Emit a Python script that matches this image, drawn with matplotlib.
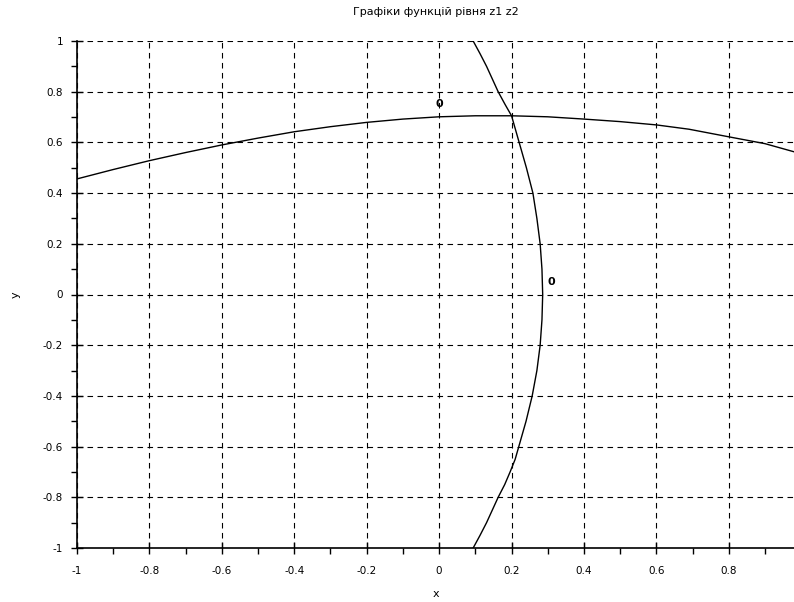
"""
Level curves z1 = 0 and z2 = 0 (Scilab-style contour look)
"""

### Import modules
import matplotlib.pyplot as plt
from matplotlib.ticker import MultipleLocator

### Data
# curve z1 = 0 (flat arc across the plot)
z1_x = [-1.0, -0.9, -0.8, -0.7, -0.6, -0.5, -0.4, -0.3, -0.2, -0.1, 0.0, 0.1, 0.2, 0.3,
        0.4, 0.5, 0.6, 0.69, 0.8, 0.9, 0.98]
z1_y = [0.456, 0.493, 0.528, 0.560, 0.590, 0.617, 0.642, 0.662, 0.679, 0.692, 0.701,
        0.705, 0.705, 0.701, 0.692, 0.682, 0.669, 0.652, 0.622, 0.595, 0.563]
# curve z2 = 0 (steep arc, bulging to the right)
z2_y = [1.0, 0.95, 0.9, 0.85, 0.8, 0.75, 0.705, 0.65, 0.6, 0.5, 0.4, 0.3, 0.2, 0.1, 0.0,
        -0.1, -0.2, -0.3, -0.4, -0.5, -0.6, -0.65, -0.7, -0.75, -0.8, -0.85, -0.9, -0.95, -1.0]
z2_x = [0.094, 0.113, 0.131, 0.147, 0.163, 0.182, 0.200, 0.211, 0.221, 0.241, 0.259,
        0.270, 0.279, 0.284, 0.286, 0.284, 0.279, 0.270, 0.257, 0.240, 0.220, 0.210,
        0.196, 0.181, 0.163, 0.147, 0.131, 0.113, 0.094]
# contour level labels
lab_x = [0.0, 0.31]
lab_y = [0.75, 0.05]
lab_txt = ['0', '0']

xticks = [-1.0, -0.8, -0.6, -0.4, -0.2, 0.0, 0.2, 0.4, 0.6, 0.8]
xlabels = ['-1', '-0.8', '-0.6', '-0.4', '-0.2', '0', '0.2', '0.4', '0.6', '0.8']
yticks = [-1.0, -0.8, -0.6, -0.4, -0.2, 0.0, 0.2, 0.4, 0.6, 0.8, 1.0]
ylabels = ['-1', '-0.8', '-0.6', '-0.4', '-0.2', '0', '0.2', '0.4', '0.6', '0.8', '1']

### Create plot
plt.rc('font', family='DejaVu Sans', size=7.5)

fig = plt.figure(figsize=(7.94, 6.02), dpi=100)
ax = fig.add_axes([77/794, 1-548/602, 1-77/794, (548-41)/602])

ax.plot(z1_x, z1_y, color='black', linewidth=1.0, zorder=3)
ax.plot(z2_x, z2_y, color='black', linewidth=1.0, zorder=3)
for xx, yy, tt in zip(lab_x, lab_y, lab_txt):
    ax.text(xx, yy, tt, ha='center', va='center', fontsize=8, fontweight='bold', zorder=4)

ax.set_xlim(-1.0, 0.98)
ax.set_ylim(-1.0, 1.0)
ax.set_xticks(xticks)
ax.set_yticks(yticks)
ax.set_xticklabels(xlabels)
ax.set_yticklabels(ylabels)
ax.xaxis.set_minor_locator(MultipleLocator(0.1))
ax.yaxis.set_minor_locator(MultipleLocator(0.1))

### Spines and ticks
ax.spines['top'].set_color('none')
ax.spines['right'].set_color('none')
ax.spines['bottom'].set_linewidth(1.2)
ax.spines['left'].set_linewidth(1.2)
ax.tick_params(which='major', direction='inout', length=8, width=1.0, pad=6)
ax.tick_params(axis='x', which='major', pad=9)
ax.tick_params(which='minor', direction='out', length=4, width=1.0)

ax.grid(which='major', color='black', linestyle=(0, (5, 4)), linewidth=0.8, zorder=1)

### Text
ax.set_title('Графіки функцій рівня z1 z2', fontsize=8, pad=19)
ax.set_xlabel('x', fontsize=8, labelpad=9)
ax.set_ylabel('y', fontsize=8, labelpad=16, rotation=90)

### Save figure
plt.savefig('out.png', dpi=100)
